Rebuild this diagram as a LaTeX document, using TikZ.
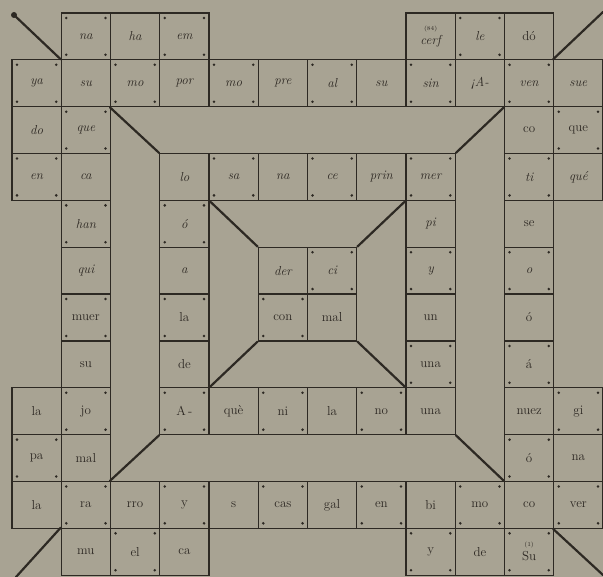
\documentclass[tikz,border=0pt]{standalone}
\usepackage{fontspec}
\definecolor{paper}{RGB}{168,163,147}
\definecolor{ink}{RGB}{45,41,35}
\definecolor{txt}{RGB}{45,40,35}
\tikzset{
  cellbox/.style={draw=ink, line width=1.2pt, rectangle, inner sep=0pt,
    minimum width=49.25pt, minimum height=46.85pt, align=center,
    text=txt, font=\fontsize{13}{13}\selectfont},
  it/.style={font=\fontsize{13}{13}\selectfont\itshape},
  screws/.style={path picture={
    \fill[ink] ([shift={(5pt,-5pt)}]path picture bounding box.north west) circle (1.4pt);
    \fill[ink] ([shift={(-5pt,-5pt)}]path picture bounding box.north east) circle (1.4pt);
    \fill[ink] ([shift={(5pt,5pt)}]path picture bounding box.south west) circle (1.4pt);
    \fill[ink] ([shift={(-5pt,5pt)}]path picture bounding box.south east) circle (1.4pt);}},
  wall/.style={draw=ink, line width=2.2pt, line cap=round}
}
\newcommand{\mycell}[4]{%
  \ifodd\numexpr#1+#2\relax
    \node[cellbox,screws,#4] (c#1-#2) at ({12+49.25*(#2+0.5)},{-(13+46.85*(#1+0.5))}) {#3};
  \else
    \node[cellbox,#4] (c#1-#2) at ({12+49.25*(#2+0.5)},{-(13+46.85*(#1+0.5))}) {#3};
  \fi}
\begin{document}
\begin{tikzpicture}[x=1pt,y=1pt]
\fill[paper] (0,0) rectangle (603,-577);
\useasboundingbox (0,0) rectangle (603,-577);
% row 0
\mycell{0}{1}{na}{it}\mycell{0}{2}{ha}{it}\mycell{0}{3}{em}{it}
\mycell{0}{8}{{\fontsize{6}{6}\selectfont\upshape(84)}\\[1pt]cerf}{it}
\mycell{0}{9}{le}{it}\mycell{0}{10}{dó}{}
% row 1
\mycell{1}{0}{ya}{it}\mycell{1}{1}{su}{it}\mycell{1}{2}{mo}{it}\mycell{1}{3}{por}{it}
\mycell{1}{4}{mo}{it}\mycell{1}{5}{pre}{it}\mycell{1}{6}{al}{it}\mycell{1}{7}{su}{it}
\mycell{1}{8}{sin}{it}\mycell{1}{9}{¡A-}{it}\mycell{1}{10}{ven}{it}\mycell{1}{11}{sue}{it}
% row 2
\mycell{2}{0}{do}{it}\mycell{2}{1}{que}{it}\mycell{2}{10}{co}{}\mycell{2}{11}{que}{}
% row 3
\mycell{3}{0}{en}{it}\mycell{3}{1}{ca}{it}\mycell{3}{3}{lo}{it}\mycell{3}{4}{sa}{it}
\mycell{3}{5}{na}{it}\mycell{3}{6}{ce}{it}\mycell{3}{7}{prin}{it}\mycell{3}{8}{mer}{it}
\mycell{3}{10}{ti}{it}\mycell{3}{11}{qué}{it}
% row 4
\mycell{4}{1}{han}{it}\mycell{4}{3}{ó}{it}\mycell{4}{8}{pi}{it}\mycell{4}{10}{se}{}
% row 5
\mycell{5}{1}{qui}{it}\mycell{5}{3}{a}{it}\mycell{5}{5}{der}{it}\mycell{5}{6}{ci}{it}
\mycell{5}{8}{y}{it}\mycell{5}{10}{o}{it}
% row 6
\mycell{6}{1}{muer}{}\mycell{6}{3}{la}{}\mycell{6}{5}{con}{}\mycell{6}{6}{mal}{}
\mycell{6}{8}{un}{}\mycell{6}{10}{ó}{}
% row 7
\mycell{7}{1}{su}{}\mycell{7}{3}{de}{}\mycell{7}{8}{una}{}\mycell{7}{10}{á}{}
% row 8
\mycell{8}{0}{la}{}\mycell{8}{1}{jo}{}\mycell{8}{3}{A\,-}{}\mycell{8}{4}{què}{}
\mycell{8}{5}{ni}{}\mycell{8}{6}{la}{}\mycell{8}{7}{no}{}\mycell{8}{8}{una}{}
\mycell{8}{10}{nuez}{}\mycell{8}{11}{gi}{}
% row 9
\mycell{9}{0}{pa}{}\mycell{9}{1}{mal}{}\mycell{9}{10}{ó}{}\mycell{9}{11}{na}{}
% row 10
\mycell{10}{0}{la}{}\mycell{10}{1}{ra}{}\mycell{10}{2}{rro}{}\mycell{10}{3}{y}{}
\mycell{10}{4}{s}{}\mycell{10}{5}{cas}{}\mycell{10}{6}{gal}{}\mycell{10}{7}{en}{}
\mycell{10}{8}{bi}{}\mycell{10}{9}{mo}{}\mycell{10}{10}{co}{}\mycell{10}{11}{ver}{}
% row 11
\mycell{11}{1}{mu}{}\mycell{11}{2}{el}{}\mycell{11}{3}{ca}{}
\mycell{11}{8}{y}{}\mycell{11}{9}{de}{}
\mycell{11}{10}{{\fontsize{6}{6}\selectfont(1)}\\[1pt]Su}{}
% free ends
\coordinate (tl) at (14,-15);
\coordinate (tr) at (603,-12);
\coordinate (bl) at (16,-577);
\coordinate (br) at (603,-575);
\fill[ink] (tl) circle (3pt);
% diagonal walls
\draw[wall] (tl) -- (c1-1.north west);
\draw[wall] (tr) -- (c1-11.north west);
\draw[wall] (c1-2.south west) -- (c3-3.north west);
\draw[wall] (c1-10.south west) -- (c3-8.north east);
\draw[wall] (c3-3.south east) -- (c5-5.north west);
\draw[wall] (c3-8.south west) -- (c5-6.north east);
\draw[wall] (c6-5.south west) -- (c8-3.north east);
\draw[wall] (c6-6.south east) -- (c8-8.north west);
\draw[wall] (c8-3.south west) -- (c10-2.north west);
\draw[wall] (c8-8.south east) -- (c10-10.north west);
\draw[wall] (c11-1.north west) -- (bl);
\draw[wall] (c10-11.south west) -- (br);
\end{tikzpicture}
\end{document}
